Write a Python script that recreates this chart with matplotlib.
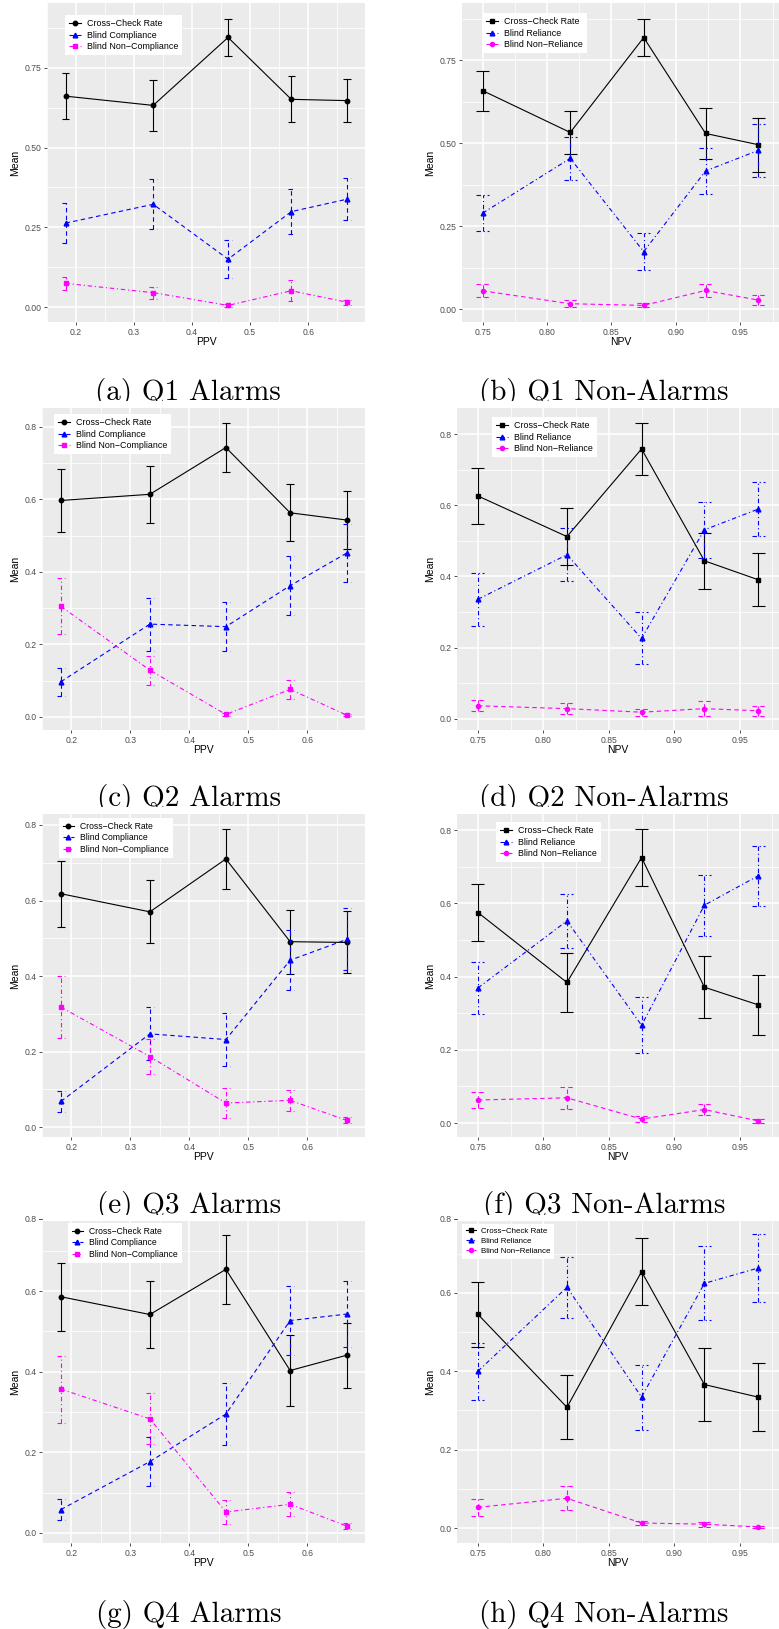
import matplotlib
matplotlib.use("Agg")
import matplotlib.pyplot as plt
from matplotlib.patches import Rectangle

# Output size in pixels
W, H = 779, 1629
DPI = 100

# x values
PPV = [0.182, 0.333, 0.462, 0.571, 0.667]
NPV = [0.750, 0.818, 0.875, 0.923, 0.964]

# (a) Q1 Alarms
q1a_cc = [0.661, 0.632, 0.845, 0.651, 0.647]
q1a_cc_err = [0.072, 0.079, 0.058, 0.072, 0.067]
q1a_bc = [0.263, 0.322, 0.150, 0.299, 0.338]
q1a_bc_err = [0.063, 0.078, 0.060, 0.070, 0.066]
q1a_bnc = [0.074, 0.045, 0.005, 0.051, 0.015]
q1a_bnc_err = [0.021, 0.019, 0.004, 0.033, 0.008]

# (b) Q1 Non-Alarms
q1n_cc = [0.658, 0.532, 0.818, 0.529, 0.495]
q1n_cc_err = [0.060, 0.066, 0.057, 0.076, 0.081]
q1n_br = [0.289, 0.454, 0.173, 0.416, 0.478]
q1n_br_err = [0.055, 0.065, 0.055, 0.069, 0.079]
q1n_bnr = [0.055, 0.016, 0.011, 0.056, 0.027]
q1n_bnr_err = [0.020, 0.010, 0.006, 0.020, 0.014]

# (c) Q2 Alarms
q2a_cc = [0.597, 0.614, 0.743, 0.563, 0.543]
q2a_cc_err = [0.088, 0.078, 0.068, 0.079, 0.080]
q2a_bc = [0.097, 0.256, 0.249, 0.362, 0.452]
q2a_bc_err = [0.039, 0.073, 0.067, 0.081, 0.080]
q2a_bnc = [0.305, 0.129, 0.007, 0.076, 0.005]
q2a_bnc_err = [0.077, 0.040, 0.005, 0.027, 0.003]

# (d) Q2 Non-Alarms
q2n_cc = [0.626, 0.512, 0.758, 0.444, 0.391]
q2n_cc_err = [0.078, 0.079, 0.073, 0.079, 0.074]
q2n_br = [0.336, 0.461, 0.226, 0.531, 0.589]
q2n_br_err = [0.074, 0.075, 0.073, 0.078, 0.075]
q2n_bnr = [0.037, 0.029, 0.019, 0.029, 0.023]
q2n_bnr_err = [0.015, 0.016, 0.010, 0.021, 0.014]

# (e) Q3 Alarms
q3a_cc = [0.618, 0.570, 0.710, 0.491, 0.489]
q3a_cc_err = [0.087, 0.083, 0.080, 0.085, 0.082]
q3a_bc = [0.068, 0.247, 0.232, 0.442, 0.497]
q3a_bc_err = [0.027, 0.070, 0.069, 0.080, 0.082]
q3a_bnc = [0.318, 0.187, 0.064, 0.071, 0.018]
q3a_bnc_err = [0.083, 0.046, 0.041, 0.028, 0.008]

# (f) Q3 Non-Alarms
q3n_cc = [0.575, 0.384, 0.725, 0.371, 0.323]
q3n_cc_err = [0.077, 0.081, 0.078, 0.084, 0.082]
q3n_br = [0.369, 0.552, 0.267, 0.595, 0.675]
q3n_br_err = [0.070, 0.074, 0.076, 0.083, 0.082]
q3n_bnr = [0.063, 0.069, 0.011, 0.037, 0.006]
q3n_bnr_err = [0.021, 0.030, 0.008, 0.016, 0.005]

# (g) Q4 Alarms
q4a_cc = [0.586, 0.542, 0.654, 0.403, 0.441]
q4a_cc_err = [0.085, 0.083, 0.085, 0.087, 0.081]
q4a_bc = [0.058, 0.177, 0.295, 0.527, 0.543]
q4a_bc_err = [0.026, 0.060, 0.078, 0.085, 0.081]
q4a_bnc = [0.357, 0.283, 0.052, 0.071, 0.017]
q4a_bnc_err = [0.083, 0.063, 0.030, 0.030, 0.007]

# (h) Q4 Non-Alarms
q4n_cc = [0.545, 0.308, 0.654, 0.366, 0.334]
q4n_cc_err = [0.082, 0.082, 0.085, 0.093, 0.086]
q4n_br = [0.400, 0.614, 0.334, 0.624, 0.663]
q4n_br_err = [0.073, 0.078, 0.083, 0.094, 0.086]
q4n_bnr = [0.053, 0.076, 0.013, 0.010, 0.003]
q4n_bnr_err = [0.021, 0.031, 0.006, 0.006, 0.003]

ALARM_LABELS = ["Cross\u2212Check Rate", "Blind Compliance", "Blind Non\u2212Compliance"]
NONALARM_LABELS = ["Cross\u2212Check Rate", "Blind Reliance", "Blind Non\u2212Reliance"]
CAPTIONS = ["(a) Q1 Alarms", "(b) Q1 Non-Alarms", "(c) Q2 Alarms", "(d) Q2 Non-Alarms",
            "(e) Q3 Alarms", "(f) Q3 Non-Alarms", "(g) Q4 Alarms", "(h) Q4 Non-Alarms"]

DASHED = (0, (4, 3))
DOTDASH = (0, (4, 2.5, 1, 2.5))
ALARM_STYLES = [("black", "-", "o", 3.2), ("blue", DASHED, "^", 3.4), ("magenta", DOTDASH, "s", 3.2)]
NONALARM_STYLES = [("black", "-", "s", 3.2), ("blue", DOTDASH, "^", 3.4), ("magenta", DASHED, "o", 3.0)]

TICK_GREY = "#4D4D4D"
FONT = "Liberation Sans"


def make_panels():
    alarm = dict(x=PPV, labels=ALARM_LABELS, styles=ALARM_STYLES, xlabel="PPV", cap=0.013,
                 xlim=(0.151, 0.698), xticks=[0.2, 0.3, 0.4, 0.5, 0.6],
                 xticklabels=["0.2", "0.3", "0.4", "0.5", "0.6"],
                 xminor=[0.15, 0.25, 0.35, 0.45, 0.55, 0.65], ylab_px=15)
    nonalarm = dict(x=NPV, labels=NONALARM_LABELS, styles=NONALARM_STYLES, xlabel="NPV", cap=0.010,
                    xlim=(0.734, 0.980), xticks=[0.75, 0.80, 0.85, 0.90, 0.95],
                    xticklabels=["0.75", "0.80", "0.85", "0.90", "0.95"],
                    xminor=[0.775, 0.825, 0.875, 0.925, 0.975], ylab_px=430)
    quarter_ticks = dict(yticks=[0, 0.25, 0.5, 0.75], yticklabels=["0.00", "0.25", "0.50", "0.75"],
                         yminor=[0.125, 0.375, 0.625, 0.875])
    fifth_ticks = dict(yticks=[0, 0.2, 0.4, 0.6, 0.8], yticklabels=["0.0", "0.2", "0.4", "0.6", "0.8"],
                       yminor=[0.1, 0.3, 0.5, 0.7])
    top_ticks = dict(yticks=[0, 0.2, 0.4, 0.6], yticklabels=["0.0", "0.2", "0.4", "0.6"],
                     yminor=[0.1, 0.3, 0.5, 0.7], extra_top="0.8")

    panels = [
        dict(alarm, **quarter_ticks, rect=(47, 3, 365, 322), ylim=(-0.047, 0.953), leg=(65, 15), legsize=6.4,
             series=[(q1a_cc, q1a_cc_err), (q1a_bc, q1a_bc_err), (q1a_bnc, q1a_bnc_err)]),
        dict(nonalarm, **quarter_ticks, rect=(462, 3, 779, 322), ylim=(-0.039, 0.922), leg=(482, 13), legsize=6.4,
             series=[(q1n_cc, q1n_cc_err), (q1n_br, q1n_br_err), (q1n_bnr, q1n_bnr_err)]),
        dict(alarm, **fifth_ticks, rect=(42, 408, 365, 730), ylim=(-0.036, 0.852), leg=(54, 414), legsize=6.4,
             series=[(q2a_cc, q2a_cc_err), (q2a_bc, q2a_bc_err), (q2a_bnc, q2a_bnc_err)]),
        dict(nonalarm, **fifth_ticks, rect=(457, 408, 779, 730), ylim=(-0.031, 0.873), leg=(492, 417), legsize=6.4,
             series=[(q2n_cc, q2n_cc_err), (q2n_br, q2n_br_err), (q2n_bnr, q2n_bnr_err)]),
        dict(alarm, **fifth_ticks, rect=(42, 814, 365, 1137), ylim=(-0.026, 0.829), leg=(59, 818), legsize=6.2,
             series=[(q3a_cc, q3a_cc_err), (q3a_bc, q3a_bc_err), (q3a_bnc, q3a_bnc_err)]),
        dict(nonalarm, **fifth_ticks, rect=(457, 814, 779, 1137), ylim=(-0.038, 0.844), leg=(496, 822), legsize=6.4,
             series=[(q3n_cc, q3n_cc_err), (q3n_br, q3n_br_err), (q3n_bnr, q3n_bnr_err)]),
        dict(alarm, **top_ticks, rect=(42, 1221, 365, 1543), ylim=(-0.025, 0.774), leg=(68, 1223), legsize=6.2,
             series=[(q4a_cc, q4a_cc_err), (q4a_bc, q4a_bc_err), (q4a_bnc, q4a_bnc_err)]),
        dict(nonalarm, **top_ticks, rect=(457, 1221, 779, 1543), ylim=(-0.038, 0.783), leg=(462, 1224), legsize=5.7,
             series=[(q4n_cc, q4n_cc_err), (q4n_br, q4n_br_err), (q4n_bnr, q4n_bnr_err)]),
    ]
    return panels


def draw_panel(fig, p):
    left, top, right, bottom = p["rect"]
    w, h = right - left, bottom - top
    ax = fig.add_axes([left / W, 1 - bottom / H, w / W, h / H])
    ax.set_zorder(5)
    ax.set_facecolor("#EBEBEB")
    for s in ax.spines.values():
        s.set_visible(False)

    ax.set_xlim(*p["xlim"])
    ax.set_ylim(*p["ylim"])
    ax.set_xticks(p["xticks"])
    ax.set_xticklabels(p["xticklabels"])
    ax.set_xticks(p["xminor"], minor=True)
    ax.set_yticks(p["yticks"])
    ax.set_yticklabels(p["yticklabels"])
    ax.set_yticks(p["yminor"], minor=True)
    ax.grid(which="major", color="white", linewidth=1.1)
    ax.grid(which="minor", color="white", linewidth=0.55)
    ax.set_axisbelow(True)
    ax.tick_params(which="major", length=2.5, width=0.6, color="#333333", pad=1.5,
                   labelsize=6.2, labelcolor=TICK_GREY)
    ax.tick_params(which="minor", length=0)
    for lab in ax.get_xticklabels() + ax.get_yticklabels():
        lab.set_family(FONT)

    if p.get("extra_top"):
        # label sitting at the upper edge of the panel
        ax.text(-5.5 / w, 1.006, p["extra_top"], transform=ax.transAxes, ha="right", va="center",
                fontsize=6.2, color=TICK_GREY, family=FONT, clip_on=False)
        ax.plot([-3.5 / w, 0], [1.006, 1.006], transform=ax.transAxes, color="#333333",
                lw=0.6, clip_on=False)

    ax.set_xlabel(p["xlabel"], fontsize=7.5, family=FONT)
    ax.xaxis.label.set_va("center")
    ax.xaxis.set_label_coords(0.5, -20 / h)
    ax.set_ylabel("Mean", fontsize=7.5, family=FONT)
    ax.yaxis.label.set_va("center")
    ax.yaxis.set_label_coords((p["ylab_px"] - left) / w, 0.5)

    x = p["x"]
    half = p["cap"] / 2
    for (vals, errs), label, (color, ls, marker, ms) in zip(p["series"], p["labels"], p["styles"]):
        lo = [v - e for v, e in zip(vals, errs)]
        hi = [v + e for v, e in zip(vals, errs)]
        ax.vlines(x, lo, hi, colors=color, linestyles=ls, linewidth=0.8)
        xl = [xi - half for xi in x]
        xr = [xi + half for xi in x]
        ax.hlines(lo, xl, xr, colors=color, linestyles=ls, linewidth=0.8)
        ax.hlines(hi, xl, xr, colors=color, linestyles=ls, linewidth=0.8)
        ax.plot(x, vals, color=color, linestyle=ls, linewidth=0.8, marker=marker,
                markersize=ms, label=label)

    lx, ly = p["leg"]
    leg = ax.legend(loc="upper left", bbox_to_anchor=((lx - left) / w, 1 - (ly - top) / h),
                    borderaxespad=0, frameon=True, fancybox=False, framealpha=1,
                    facecolor="white", edgecolor="white", handlelength=1.3, handletextpad=0.7,
                    labelspacing=0.3, borderpad=0.45, prop={"family": FONT, "size": p["legsize"]})
    leg.get_frame().set_linewidth(0)
    return ax


def main():
    fig = plt.figure(figsize=(W / DPI, H / DPI), dpi=DPI)
    fig.patch.set_facecolor("white")

    for p in make_panels():
        draw_panel(fig, p)

    # captions under each panel, (x centre, baseline) in pixels
    cap_pos = [(188, 400), (604, 400), (189, 806), (604, 806),
               (189, 1213), (604, 1213), (189, 1622), (604, 1622)]
    for text, (cx, by) in zip(CAPTIONS, cap_pos):
        fig.text(cx / W, 1 - by / H, text, ha="center", va="baseline", fontsize=21, family="cmr10")

    # the next row of plots sits over the bottom of the captions
    for y0, y1 in [(401, 408), (807, 814), (1215, 1221)]:
        fig.add_artist(Rectangle((0, 1 - y1 / H), 1, (y1 - y0) / H, transform=fig.transFigure,
                                 facecolor="white", edgecolor="none", zorder=4))

    fig.savefig("out.png", dpi=DPI)
    plt.close(fig)


if __name__ == "__main__":
    main()
